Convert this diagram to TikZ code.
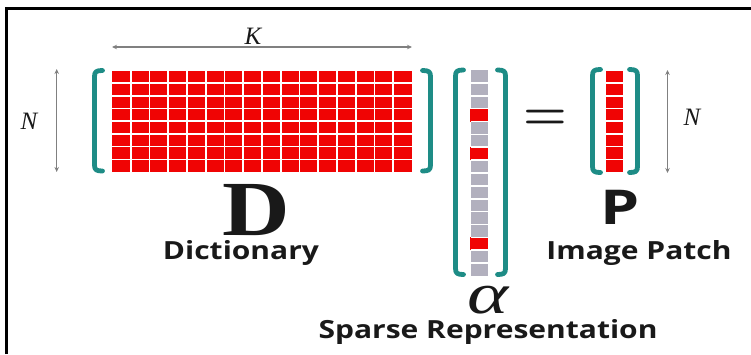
\documentclass[tikz,border=0pt]{standalone}
\usepackage{fontspec}
\newfontfamily\lblfont{Open Sans}
\newfontfamily\dfont{Liberation Serif}
\usetikzlibrary{arrows.meta}
\definecolor{tealc}{RGB}{30,140,134}
\definecolor{redc}{RGB}{240,4,4}
\definecolor{grayc}{RGB}{178,176,190}
\definecolor{dimc}{RGB}{128,128,128}
\definecolor{txtc}{RGB}{25,25,25}
\begin{document}
\begin{tikzpicture}[x=1pt,y=-1pt,
  brk/.style={draw=tealc,line width=4.8pt,line cap=round,line join=round},
  dim/.style={draw=dimc,line width=1.1pt,{Stealth[length=5pt,width=4.5pt]}-{Stealth[length=5pt,width=4.5pt]}},
  sep/.style={draw=white,line width=1.6pt},
  lbl/.style={inner sep=0pt,text=txtc,font=\lblfont\bfseries\fontsize{25}{28}\selectfont},
  mlbl/.style={inner sep=0pt,text=txtc,font=\dfont\itshape\fontsize{25}{28}\selectfont}]
\useasboundingbox (0,0) rectangle (751,354);
% frame
\draw[line width=3pt] (6.5,354) -- (6.5,8.5) -- (751,8.5);
% D grid
\fill[redc] (112,70.5) rectangle (412,172);
\foreach \i in {1,...,15} \draw[sep] ({112+\i*18.75},70.5) -- ++(0,101.5);
\foreach \j in {1,...,7} \draw[sep] (112,{70.5+\j*12.6875}) -- ++(300,0);
% alpha column
\fill[grayc] (470.5,70) rectangle (487.5,276);
\foreach \j in {3,6,13} \fill[redc] (470,{70+\j*12.875}) rectangle ++(18,12.875);
\foreach \j in {1,...,15} \draw[sep] (470.5,{70+\j*12.875}) -- ++(17,0);
% P column
\fill[redc] (605.5,70.5) rectangle (622.5,172);
\foreach \j in {1,...,7} \draw[sep] (605.5,{70.5+\j*12.6875}) -- ++(17,0);
% brackets
\newcommand\lbrk[3]{\draw[brk] ({#1+8},#2) .. controls ({#1+2},#2) and (#1,{#2+1}) .. (#1,{#2+6}) -- (#1,{#3-6}) .. controls (#1,{#3-1}) and ({#1+2},#3) .. ({#1+8},#3);}
\newcommand\rbrk[3]{\draw[brk] ({#1-8},#2) .. controls ({#1-2},#2) and (#1,{#2+1}) .. (#1,{#2+6}) -- (#1,{#3-6}) .. controls (#1,{#3-1}) and ({#1-2},#3) .. ({#1-8},#3);}
\lbrk{94.5}{70.5}{171}
\rbrk{430.5}{70.5}{171}
\lbrk{455.5}{70}{274.5}
\rbrk{505.5}{70}{274.5}
\lbrk{592.5}{69.5}{172.5}
\rbrk{637.5}{69.5}{172.5}
% dimension arrows
\coordinate (kL) at (112,47); \coordinate (kR) at (412,47);
\coordinate (nLt) at (56.7,69); \coordinate (nLb) at (56.7,172);
\coordinate (nRt) at (667.5,70); \coordinate (nRb) at (667.5,173);
\draw[dim] (kL) -- (kR);
\draw[dim] (nLt) -- (nLb);
\draw[dim] (nRt) -- (nRb);
\node[mlbl] (K) at (253,36) {K};
\node[mlbl] (NL) at (29,121) {N};
\node[mlbl] (NR) at (692,117) {N};
% equals
\node[inner sep=0pt,anchor=base,text=txtc,font=\bfseries\fontsize{50}{60}\selectfont] (eq) at (545.5,129) {=};
% letters
\node[inner sep=0pt,anchor=base,text=txtc,font=\dfont\bfseries\fontsize{78}{80}\selectfont] (D) at (256,235) {\scalebox{1.2}[1]{D}};
\node[inner sep=0pt,anchor=base,text=txtc,font=\lblfont\bfseries\fontsize{48}{50}\selectfont] (P) at (620,224) {\scalebox{1.3}[1]{P}};
\node[inner sep=0pt,anchor=base,text=txtc,font=\dfont\itshape\fontsize{58}{60}\selectfont] (al) at (488,313) {\scalebox{1.35}[1]{α}};
% labels
\node[lbl,anchor=base] (dict) at (241,259) {\scalebox{1.2}[1]{Dictionary}};
\node[lbl,anchor=base] (img) at (639,259) {\scalebox{1.2}[1]{Image Patch}};
\node[lbl,anchor=base] (sp) at (488,338) {\scalebox{1.2}[1]{Sparse Representation}};
\end{tikzpicture}
\end{document}
